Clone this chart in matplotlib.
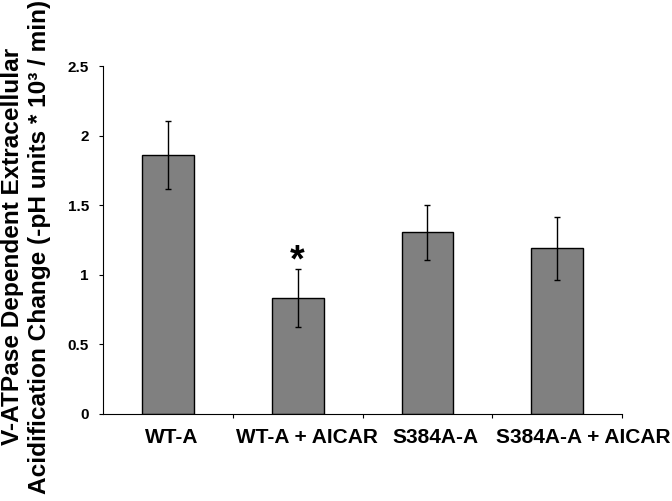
import matplotlib
matplotlib.use("Agg")
import matplotlib.pyplot as plt

categories = ["WT-A", "WT-A + AICAR", "S384A-A", "S384A-A + AICAR"]
values = [1.86, 0.83, 1.305, 1.19]
errors = [0.246, 0.208, 0.20, 0.225]
yticks = [0, 0.5, 1, 1.5, 2, 2.5]
ytick_labels = ["0", "0.5", "1", "1.5", "2", "2.5"]

# label shifts (in category units) to mimic the reference placement
label_shift = [0.03, 0.07, 0.06, 0.2]

plt.rcParams['font.family'] = ['Liberation Sans', 'DejaVu Sans']
fig = plt.figure(figsize=(6.72, 5.01), dpi=100)
ax = fig.add_axes([0.153, 0.174, 0.773, 0.694])

x = list(range(len(categories)))
ax.bar(x, values, width=0.4, color="#808080", edgecolor="black", linewidth=1.0, zorder=2)
ax.errorbar(x, values, yerr=errors, fmt="none", ecolor="black", elinewidth=1.0,
            capsize=2.5, capthick=1.0, zorder=3)
ax.text(1, values[1] + errors[1] - 0.015, "*", ha="center", va="baseline",
        fontsize=27, fontweight="bold")

ax.set_xlim(-0.5, len(categories) - 0.5)
ax.set_ylim(0, 2.5)
ax.set_yticks(yticks)
ax.set_yticklabels(ytick_labels, fontsize=11, fontweight="bold")
ax.set_xticks([i + 0.5 for i in range(len(categories) - 1)] + [len(categories) - 0.5], minor=False)
ax.set_xticklabels([])
ax.set_xticks([xi + s for xi, s in zip(x, label_shift)], minor=True)
ax.set_xticklabels(categories, minor=True, fontsize=15, fontweight="bold")
ax.tick_params(axis="x", which="major", length=3, direction="out")
ax.tick_params(axis="x", which="minor", length=0, pad=10)
ax.tick_params(axis="y", length=3, direction="out", pad=7)
ax.spines["top"].set_visible(False)
ax.spines["right"].set_visible(False)

fig.text(0.001, 0.508,
         "V-ATPase Dependent Extracellular\nAcidification Change (-pH units * 10³ / min)",
         rotation=90, ha="left", va="center", multialignment="center",
         fontsize=17.6, fontweight="bold", linespacing=1.22)

fig.savefig("out.png", dpi=100)
